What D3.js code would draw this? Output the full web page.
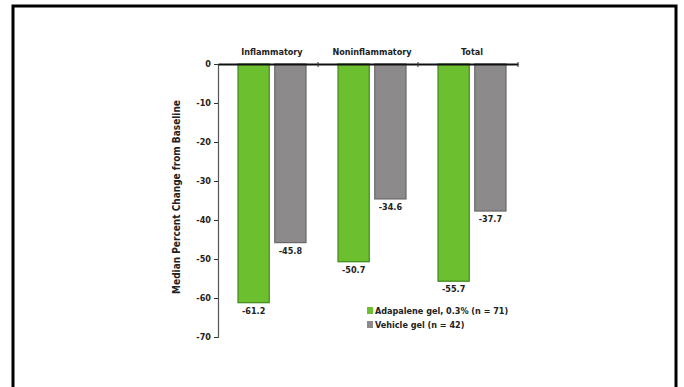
<!DOCTYPE html>
<html>
<head>
<meta charset="utf-8">
<script src="https://cdn.jsdelivr.net/npm/d3@7"></script>
<style>
  body { margin: 0; background: #fff; }
  svg { display: block; }
  text { font-family: 'Liberation Sans Narrow', 'DejaVu Sans Condensed', sans-serif; font-weight: bold; fill: #222; }
</style>
</head>
<body>
<svg id="drawing_region"></svg>
<script>
// chart values
const categories = ['Inflammatory', 'Noninflammatory', 'Total'];
const series = ['Adapalene gel, 0.3% (n = 71)', 'Vehicle gel (n = 42)'];
const adapalene = [-61.2, -50.7, -55.7];
const vehicle = [-45.8, -34.6, -37.7];
const yticks = [0, -10, -20, -30, -40, -50, -60, -70];

const colors = ['#6cbf2e', '#8c8a8a'];
const edges = ['#3f8a1c', '#6a6868'];

const svg = d3.select('#drawing_region')
    .attr('width', 684)
    .attr('height', 387);

// outer frame
svg.append('rect')
    .attr('x', 13).attr('y', 6)
    .attr('width', 663).attr('height', 420)
    .attr('fill', 'none')
    .attr('stroke', '#000')
    .attr('stroke-width', 3);

const xscale = d3.scaleBand()
    .domain(categories)
    .range([218, 518]);

const sub = d3.scaleBand()
    .domain([0, 1])
    .range([20, 88])
    .paddingInner(0.15);

const yscale = d3.scaleLinear()
    .domain([0, -70])
    .range([64, 337]);

// bars
const data = [];
categories.forEach((c, i) => {
    data.push({ cat: c, s: 0, v: adapalene[i] });
    data.push({ cat: c, s: 1, v: vehicle[i] });
});

const chart = svg.append('g');

chart.selectAll('rect.bar')
    .data(data)
    .join('rect')
    .attr('class', 'bar')
    .attr('x', d => xscale(d.cat) + sub(d.s))
    .attr('y', yscale(0))
    .attr('width', sub.bandwidth())
    .attr('height', d => yscale(d.v) - yscale(0))
    .attr('fill', d => colors[d.s])
    .attr('stroke', d => edges[d.s])
    .attr('stroke-width', 1.2);

chart.selectAll('text.val')
    .data(data)
    .join('text')
    .attr('class', 'val')
    .attr('x', d => xscale(d.cat) + sub(d.s) + sub.bandwidth() / 2)
    .attr('y', d => yscale(d.v) + 11)
    .attr('text-anchor', 'middle')
    .style('font-size', '9px')
    .text(d => d.v.toFixed(1));

// category labels
svg.selectAll('text.cat')
    .data(categories)
    .join('text')
    .attr('class', 'cat')
    .attr('x', d => xscale(d) + (sub(0) + sub(1) + sub.bandwidth()) / 2)
    .attr('y', 55)
    .attr('text-anchor', 'middle')
    .style('font-size', '9px')
    .text(d => d);

// y axis
const yaxis = d3.axisLeft(yscale)
    .tickValues(yticks)
    .tickSize(4)
    .tickFormat(d => d);

const yg = svg.append('g')
    .attr('transform', 'translate(218,0)')
    .call(yaxis);
yg.select('.domain').attr('stroke', '#555').attr('stroke-width', 1.2);
yg.selectAll('.tick line').attr('stroke', '#333');
yg.selectAll('.tick text')
    .style('font-size', '9px')
    .style('font-family', "'Liberation Sans Narrow', 'DejaVu Sans Condensed', sans-serif")
    .style('font-weight', 'bold')
    .attr('fill', '#222');

// x axis along zero
const xaxis = d3.axisTop(xscale)
    .tickValues([])
    .tickSizeOuter(0);
const xg = svg.append('g')
    .attr('transform', `translate(0,${yscale(0)})`)
    .call(xaxis);
xg.select('.domain').attr('stroke', '#111').attr('stroke-width', 1.8);

// separators between categories
xg.selectAll('line.sep')
    .data(categories.slice(1).concat(['end']))
    .join('line')
    .attr('class', 'sep')
    .attr('x1', (d, i) => i < 2 ? xscale(d) : xscale.range()[1])
    .attr('x2', (d, i) => i < 2 ? xscale(d) : xscale.range()[1])
    .attr('y1', -2).attr('y2', 3)
    .attr('stroke', '#333');

// y label
svg.append('text')
    .attr('transform', 'translate(180,197) rotate(-90)')
    .attr('text-anchor', 'middle')
    .style('font-size', '10px')
    .text('Median Percent Change from Baseline');

// legend
const legend = svg.append('g')
    .attr('transform', 'translate(367,308)');
series.forEach((s, i) => {
    const row = legend.append('g').attr('transform', `translate(0,${i * 14})`);
    row.append('rect')
        .attr('width', 6).attr('height', 7)
        .attr('y', -1)
        .attr('fill', colors[i]);
    row.append('text')
        .attr('x', 8).attr('y', 6)
        .style('font-size', '9px')
        .text(s);
});
</script>
</body>
</html>
